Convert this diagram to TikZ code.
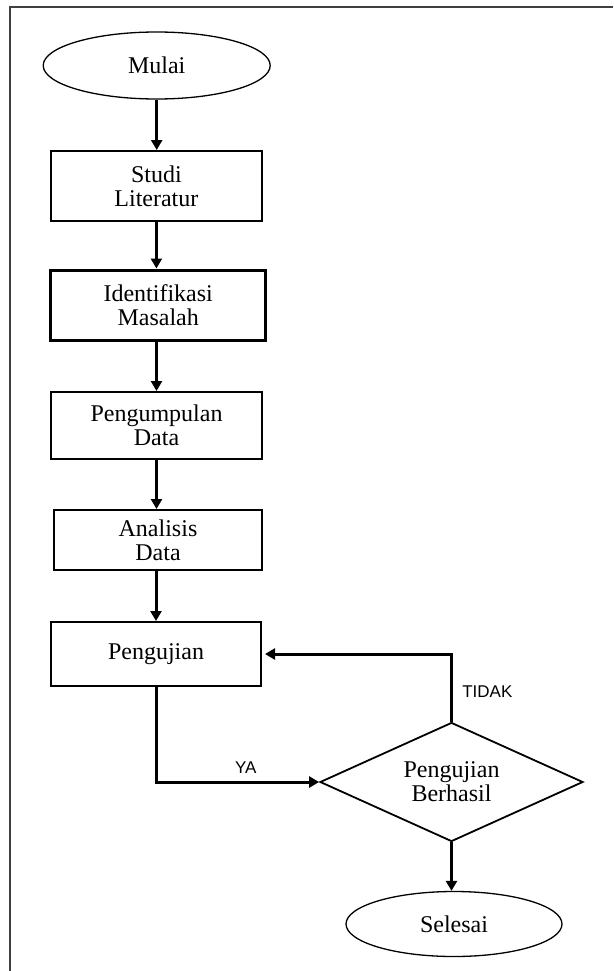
\documentclass[tikz,border=0pt]{standalone}
\usepackage{fontspec}
\setmainfont{Liberation Serif}
\newfontfamily\jawabfont{Liberation Sans}
\usetikzlibrary{shapes.geometric, arrows.meta}
\tikzset{terminal/.style={ellipse, draw, line width=1.3pt, inner sep=0pt,
                          minimum width=227pt, minimum height=67pt},
         proses/.style={rectangle, draw, line width=2pt, inner sep=0pt, align=center},
         keputusan/.style={diamond, draw, line width=1.8pt, aspect=2.2, inner sep=0pt,
                           minimum width=263pt, minimum height=119pt, align=center},
         panah/.style={line width=3pt, -{Triangle[width=11pt,length=10pt]}},
         jawab/.style={font=\jawabfont\fontsize{17}{19}\selectfont}}

\begin{document}
\begin{tikzpicture}[x=1pt, y=-1pt, font=\fontsize{24}{24}\selectfont]

        \useasboundingbox (0,0) rectangle (613,971);
        \draw[line width=2pt, black!75] (613,7.5) -- (10,7.5) -- (10,971);

        \node[terminal] (mulai) at (156.7,65.5) {Mulai};
        \node[proses, minimum width=211pt, minimum height=70pt] (studi) at (156.4,186) {Studi\\Literatur};
        \node[proses, line width=3pt, minimum width=215pt, minimum height=70pt] (identifikasi) at (158.2,305) {Identifikasi\\Masalah};
        \node[proses, minimum width=211pt, minimum height=67pt] (kumpul) at (156.5,425.5) {Pengumpulan\\Data};
        \node[proses, minimum width=208pt, minimum height=60pt] (analisis) at (158,540) {Analisis\\Data};
        \node[proses, minimum width=210pt, minimum height=64pt] (uji) at (156,654) {Pengujian};
        \node[keputusan] (cek) at (451.5,782) {Pengujian\\Berhasil};
        \node[terminal, minimum width=216pt, minimum height=65pt] (selesai) at (454,924) {Selesai};

        \draw[panah] (mulai.south) -- (mulai.south |- studi.north);
        \draw[panah] (studi.south) -- (studi.south |- identifikasi.north);
        \draw[panah] (identifikasi.south -| kumpul.north) -- (kumpul.north);
        \draw[panah] (kumpul.south) -- (kumpul.south |- analisis.north);
        \draw[panah] (analisis.south -| uji.north) -- (uji.north);

        \draw[panah] (uji.south) -- (uji.south |- cek.west)
            -- node[jawab, above=4pt, pos=.55] {YA} (cek.west);
        \draw[panah, shorten >=3pt] (cek.north)
            -- node[jawab, right=6pt, pos=.45] {TIDAK} (cek.north |- uji.east) -- (uji.east);
        \draw[panah] (cek.south) -- (cek.south |- selesai.north);

\end{tikzpicture}
\end{document}
